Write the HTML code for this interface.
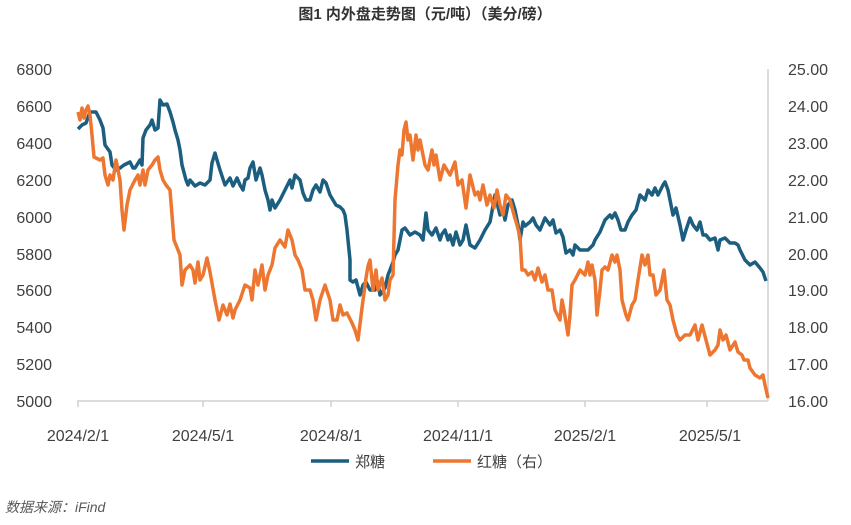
<!DOCTYPE html>
<html><head><meta charset="utf-8"><style>
body{margin:0;background:#fff;width:851px;height:520px;overflow:hidden;font-family:"Liberation Sans","Noto Sans CJK SC",sans-serif}
</style></head><body>
<svg width="851" height="520" xmlns="http://www.w3.org/2000/svg" font-family="Liberation Sans, Noto Sans CJK SC, sans-serif">
<text x="425" y="19" text-anchor="middle" font-size="15" font-weight="bold" fill="#333">图1 内外盘走势图（元/吨）（美分/磅）</text>
<g font-size="16" fill="#404040">
<text x="52" y="75" text-anchor="end">6800</text>
<text x="52" y="112" text-anchor="end">6600</text>
<text x="52" y="149" text-anchor="end">6400</text>
<text x="52" y="186" text-anchor="end">6200</text>
<text x="52" y="223" text-anchor="end">6000</text>
<text x="52" y="260" text-anchor="end">5800</text>
<text x="52" y="296" text-anchor="end">5600</text>
<text x="52" y="333" text-anchor="end">5400</text>
<text x="52" y="370" text-anchor="end">5200</text>
<text x="52" y="407" text-anchor="end">5000</text>
<text x="788" y="75">25.00</text>
<text x="788" y="112">24.00</text>
<text x="788" y="149">23.00</text>
<text x="788" y="186">22.00</text>
<text x="788" y="223">21.00</text>
<text x="788" y="260">20.00</text>
<text x="788" y="296">19.00</text>
<text x="788" y="333">18.00</text>
<text x="788" y="370">17.00</text>
<text x="788" y="407">16.00</text>
<text x="78" y="441" text-anchor="middle">2024/2/1</text>
<text x="203" y="441" text-anchor="middle">2024/5/1</text>
<text x="331" y="441" text-anchor="middle">2024/8/1</text>
<text x="458" y="441" text-anchor="middle">2024/11/1</text>
<text x="585" y="441" text-anchor="middle">2025/2/1</text>
<text x="710" y="441" text-anchor="middle">2025/5/1</text>
</g>
<g stroke="#d0d0d0" stroke-width="1.5" fill="none">
<line x1="77" y1="401" x2="768" y2="401"/>
<line x1="768" y1="69" x2="768" y2="401"/>
<line x1="78" y1="401" x2="78" y2="407"/><line x1="203" y1="401" x2="203" y2="407"/><line x1="331" y1="401" x2="331" y2="407"/><line x1="458" y1="401" x2="458" y2="407"/><line x1="585" y1="401" x2="585" y2="407"/><line x1="707" y1="401" x2="707" y2="407"/>
</g>
<polyline fill="none" stroke="#1b5e80" stroke-width="3.5" stroke-linejoin="round" points="78,129 82,125 86,123 90,112 96,112 100,120 103,128 105,145 110,152 112,165 116,170 120,168 124,165 130,162 133,168 135,168 140,160 142,165 143,138 146,130 150,125 152,120 155,130 158,128 160,100 163,105 167,104 170,112 173,122 175,130 178,140 180,150 182,165 186,180 188,185 190,180 195,186 200,183 205,185 210,180 212,163 215,153 217,160 220,170 225,185 230,178 233,186 237,178 240,185 243,190 245,180 248,178 250,168 253,162 256,180 258,174 260,168 262,175 265,190 268,200 270,210 272,200 275,208 280,200 285,190 290,180 292,188 295,175 300,180 303,193 306,200 310,200 313,190 316,185 320,192 323,180 326,183 330,195 333,200 336,205 340,207 343,210 345,215 347,230 350,260 350,280 353,282 356,280 360,295 363,285 366,282 370,290 375,290 378,282 380,295 385,288 388,275 390,270 393,262 395,255 398,250 402,230 405,228 410,235 415,232 420,235 423,240 426,213 428,230 432,235 436,228 440,240 442,234 445,230 448,240 450,235 453,245 456,232 460,245 463,240 466,225 470,245 475,248 480,240 485,230 490,222 495,195 500,215 503,210 505,220 508,205 512,200 515,210 518,225 520,240 523,222 525,226 530,222 533,218 536,225 540,230 545,218 550,225 553,220 556,233 560,230 563,237 566,253 570,250 573,255 575,245 580,250 588,250 593,245 595,240 600,232 605,220 610,215 612,218 615,213 618,220 621,230 625,230 628,222 632,215 636,210 640,195 645,200 648,190 652,195 655,188 658,195 663,185 665,182 668,190 670,200 673,215 676,208 680,225 683,240 686,230 690,218 693,225 697,230 700,222 703,235 706,235 710,240 715,238 718,250 720,240 725,238 730,243 735,243 738,245 740,250 745,260 750,265 755,262 760,268 763,272 766,281"/>
<polyline fill="none" stroke="#ed7630" stroke-width="3.5" stroke-linejoin="round" points="78,112 80,120 82,108 84,118 86,110 88,106 90,115 92,135 94,157 96,158 100,160 103,158 105,175 108,185 110,175 113,180 116,160 120,180 122,210 124,230 127,205 130,190 135,180 138,175 140,185 143,170 145,185 148,170 152,165 155,160 158,157 160,170 163,180 166,185 170,190 174,240 180,255 182,285 185,270 190,265 193,270 195,283 198,262 200,280 203,275 207,258 210,272 215,300 219,320 223,305 227,315 230,304 233,318 235,310 240,300 245,285 250,288 252,300 255,270 258,285 262,265 265,290 268,275 272,265 275,248 280,240 285,247 288,230 292,240 295,255 298,260 302,270 305,290 310,290 313,300 316,320 320,300 325,285 330,300 333,320 337,320 340,305 343,315 347,313 352,323 355,330 358,340 362,308 366,278 368,266 370,260 373,290 376,270 378,290 382,278 385,300 388,295 390,280 393,275 395,200 398,165 400,150 402,155 404,130 406,122 408,140 410,135 413,160 416,135 418,150 420,140 425,165 428,170 432,150 434,165 436,155 440,180 444,165 450,175 455,162 458,185 462,180 466,208 470,175 475,195 478,192 480,200 483,185 487,205 490,195 494,208 497,190 500,205 503,215 506,195 510,200 514,215 517,225 520,237 522,270 525,270 528,275 532,272 535,280 538,268 542,282 545,275 548,290 552,290 555,310 560,320 562,300 564,310 568,335 570,315 572,285 575,280 580,270 585,275 588,262 590,275 592,265 595,280 597,315 600,290 602,270 605,267 608,270 612,255 615,262 617,255 620,270 622,300 626,315 628,320 632,305 635,300 638,280 642,255 645,265 648,255 650,275 653,275 656,295 660,290 664,270 667,300 670,305 673,320 677,335 680,340 685,335 690,335 695,325 698,340 702,325 706,340 710,355 715,350 718,345 720,330 723,340 726,335 730,350 735,342 738,352 742,355 744,360 748,360 750,368 755,375 760,378 763,375 765,385 768,398"/>
<line x1="311" y1="461" x2="349" y2="461" stroke="#1b5e80" stroke-width="3.5"/>
<text x="355" y="467" font-size="15" fill="#404040">郑糖</text>
<line x1="433" y1="461" x2="471" y2="461" stroke="#ed7630" stroke-width="3.5"/>
<text x="477" y="467" font-size="15" fill="#404040">红糖（右）</text>
<text x="5" y="512" font-size="14" font-style="italic" fill="#595959">数据来源：iFind</text>
</svg>
</body></html>
